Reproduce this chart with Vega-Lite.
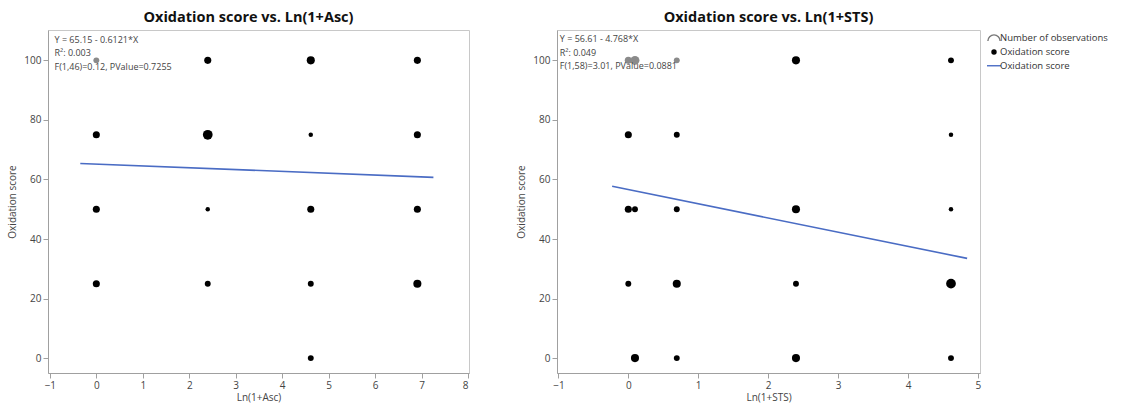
{
  "$schema": "https://vega.github.io/schema/vega-lite/v6.json",
  "background": "white",
  "padding": {"left": 7, "top": 9, "right": 0, "bottom": 0},
  "spacing": 46,
  "config": {
    "font": "Open Sans",
    "view": {"stroke": "#c8c8c8"},
    "axis": {"grid": false, "domainColor": "#a0a0a0", "tickColor": "#a0a0a0", "labelColor": "#444", "labelFontSize": 10, "titleColor": "#444", "titleFontSize": 10, "titleFontWeight": "normal", "tickSize": 5, "labelPadding": 2},
    "axisY": {"titlePadding": 6},
    "axisX": {"titlePadding": 2},
    "title": {"fontSize": 14.5, "fontWeight": "bold", "color": "#111", "offset": 5, "anchor": "middle"}
  },
  "datasets": {
    "asc": [
      {"ln_asc": 0, "score": 100, "n": 2},
      {"ln_asc": 2.3979, "score": 100, "n": 3},
      {"ln_asc": 4.6151, "score": 100, "n": 4},
      {"ln_asc": 6.9088, "score": 100, "n": 3},
      {"ln_asc": 0, "score": 75, "n": 3},
      {"ln_asc": 2.3979, "score": 75, "n": 6},
      {"ln_asc": 4.6151, "score": 75, "n": 1},
      {"ln_asc": 6.9088, "score": 75, "n": 3},
      {"ln_asc": 0, "score": 50, "n": 3},
      {"ln_asc": 2.3979, "score": 50, "n": 1},
      {"ln_asc": 4.6151, "score": 50, "n": 3},
      {"ln_asc": 6.9088, "score": 50, "n": 3},
      {"ln_asc": 0, "score": 25, "n": 3},
      {"ln_asc": 2.3979, "score": 25, "n": 2},
      {"ln_asc": 4.6151, "score": 25, "n": 2},
      {"ln_asc": 6.9088, "score": 25, "n": 4},
      {"ln_asc": 4.6151, "score": 0, "n": 2}
    ],
    "sts": [
      {"ln_sts": 0, "score": 100, "n": 3},
      {"ln_sts": 0.0953, "score": 100, "n": 5},
      {"ln_sts": 0.6931, "score": 100, "n": 2},
      {"ln_sts": 2.3979, "score": 100, "n": 4},
      {"ln_sts": 4.6151, "score": 100, "n": 2},
      {"ln_sts": 0, "score": 75, "n": 3},
      {"ln_sts": 0.6931, "score": 75, "n": 2},
      {"ln_sts": 4.6151, "score": 75, "n": 1},
      {"ln_sts": 0, "score": 50, "n": 3},
      {"ln_sts": 0.0953, "score": 50, "n": 2},
      {"ln_sts": 0.6931, "score": 50, "n": 2},
      {"ln_sts": 2.3979, "score": 50, "n": 4},
      {"ln_sts": 4.6151, "score": 50, "n": 1},
      {"ln_sts": 0, "score": 25, "n": 2},
      {"ln_sts": 0.6931, "score": 25, "n": 4},
      {"ln_sts": 2.3979, "score": 25, "n": 2},
      {"ln_sts": 4.6151, "score": 25, "n": 6},
      {"ln_sts": 0.0953, "score": 0, "n": 4},
      {"ln_sts": 0.6931, "score": 0, "n": 2},
      {"ln_sts": 2.3979, "score": 0, "n": 4},
      {"ln_sts": 4.6151, "score": 0, "n": 2}
    ],
    "fit_asc": [
      {"x": -0.345, "y": 65.36},
      {"x": 7.254, "y": 60.71}
    ],
    "fit_sts": [
      {"x": -0.231, "y": 57.71},
      {"x": 4.846, "y": 33.50}
    ],
    "legend_items": [
      {"k": "a", "label": "Number of observations"},
      {"k": "b", "label": "Oxidation score"},
      {"k": "c", "label": "Oxidation score"}
    ]
  },
  "hconcat": [
    {
      "width": 421,
      "height": 343,
      "title": {"text": "Oxidation score vs. Ln(1+Asc)", "dx": -10},
      "layer": [
        {
          "data": {"name": "asc"},
          "mark": {"type": "circle", "opacity": 1},
          "encoding": {
            "x": {"field": "ln_asc", "type": "quantitative", "title": "Ln(1+Asc)", "scale": {"domain": [-1.04, 8.02], "nice": false, "zero": false}, "axis": {"values": [-1, 0, 1, 2, 3, 4, 5, 6, 7, 8], "format": "d"}},
            "y": {"field": "score", "type": "quantitative", "title": "Oxidation score", "scale": {"domain": [-5, 110.2], "nice": false, "zero": false}, "axis": {"values": [0, 20, 40, 60, 80, 100]}},
            "size": {"field": "n", "type": "quantitative", "scale": {"domain": [0, 6], "range": [5, 95]}, "legend": null},
            "color": {"condition": {"test": "datum.score == 100 && datum.ln_asc < 1", "value": "#8a8a8a"}, "value": "black"}
          }
        },
        {
          "data": {"name": "fit_asc"},
          "mark": {"type": "line", "color": "#4a6cc4", "strokeWidth": 1.6},
          "encoding": {
            "x": {"field": "x", "type": "quantitative"},
            "y": {"field": "y", "type": "quantitative"}
          }
        },
        {
          "data": {"values": [{}]},
          "mark": {"type": "text", "align": "left", "baseline": "top", "fontSize": 9, "color": "#444", "lineHeight": 13.5, "text": ["Y = 65.15 - 0.6121*X", "R²: 0.003", "F(1,46)=0.12, PValue=0.7255"]},
          "encoding": {
            "x": {"datum": -0.9},
            "y": {"datum": 108.2}
          }
        }
      ]
    },
    {
      "spacing": 2,
      "hconcat": [
        {
          "width": 423,
          "height": 343,
          "title": "Oxidation score vs. Ln(1+STS)",
          "layer": [
            {
              "data": {"name": "sts"},
              "mark": {"type": "circle", "opacity": 1},
              "encoding": {
                "x": {"field": "ln_sts", "type": "quantitative", "title": "Ln(1+STS)", "scale": {"domain": [-1.02, 5.03], "nice": false, "zero": false}, "axis": {"values": [-1, 0, 1, 2, 3, 4, 5], "format": "d"}},
                "y": {"field": "score", "type": "quantitative", "title": "Oxidation score", "scale": {"domain": [-5, 110.2], "nice": false, "zero": false}, "axis": {"values": [0, 20, 40, 60, 80, 100]}},
                "size": {"field": "n", "type": "quantitative", "scale": {"domain": [0, 6], "range": [5, 95]}, "legend": null},
                "color": {"condition": {"test": "datum.score == 100 && datum.ln_sts < 1", "value": "#8a8a8a"}, "value": "black"}
              }
            },
            {
              "data": {"name": "fit_sts"},
              "mark": {"type": "line", "color": "#4a6cc4", "strokeWidth": 1.6},
              "encoding": {
                "x": {"field": "x", "type": "quantitative"},
                "y": {"field": "y", "type": "quantitative"}
              }
            },
            {
              "data": {"values": [{}]},
              "mark": {"type": "text", "align": "left", "baseline": "top", "fontSize": 9, "color": "#444", "lineHeight": 13.5, "text": ["Y = 56.61 - 4.768*X", "R²: 0.049", "F(1,58)=3.01, PValue=0.0881"]},
              "encoding": {
                "x": {"datum": -0.98},
                "y": {"datum": 108.5}
              }
            }
          ]
        },
        {
          "width": 136,
          "height": 44,
          "title": " ",
          "view": {"stroke": null},
          "data": {"name": "legend_items"},
          "layer": [
            {
              "mark": {"type": "point", "opacity": 1, "strokeWidth": 1.4},
              "encoding": {
                "x": {"datum": 6, "type": "quantitative", "scale": {"domain": [0, 136], "nice": false, "zero": false}, "axis": null},
                "y": {"field": "k", "type": "ordinal", "scale": {"type": "point", "domain": ["a", "b", "c"], "padding": 0.6}, "axis": null},
                "shape": {"field": "k", "type": "nominal", "scale": {"domain": ["a", "b", "c"], "range": ["M-1,0.45A1,1,0,0,1,1,0.45", "circle", "stroke"]}, "legend": null},
                "fill": {"field": "k", "type": "nominal", "scale": {"domain": ["a", "b", "c"], "range": ["transparent", "black", "transparent"]}, "legend": null},
                "stroke": {"field": "k", "type": "nominal", "scale": {"domain": ["a", "b", "c"], "range": ["#777777", "black", "#4a6cc4"]}, "legend": null},
                "size": {"condition": [{"test": "datum.k == 'b'", "value": 16}, {"test": "datum.k == 'c'", "value": 196}], "value": 150}
              }
            },
            {
              "mark": {"type": "text", "align": "left", "baseline": "middle", "fontSize": 9.5, "color": "#333"},
              "encoding": {
                "x": {"datum": 12, "type": "quantitative"},
                "y": {"field": "k", "type": "ordinal"},
                "text": {"field": "label", "type": "nominal"}
              }
            }
          ]
        }
      ]
    }
  ]
}
